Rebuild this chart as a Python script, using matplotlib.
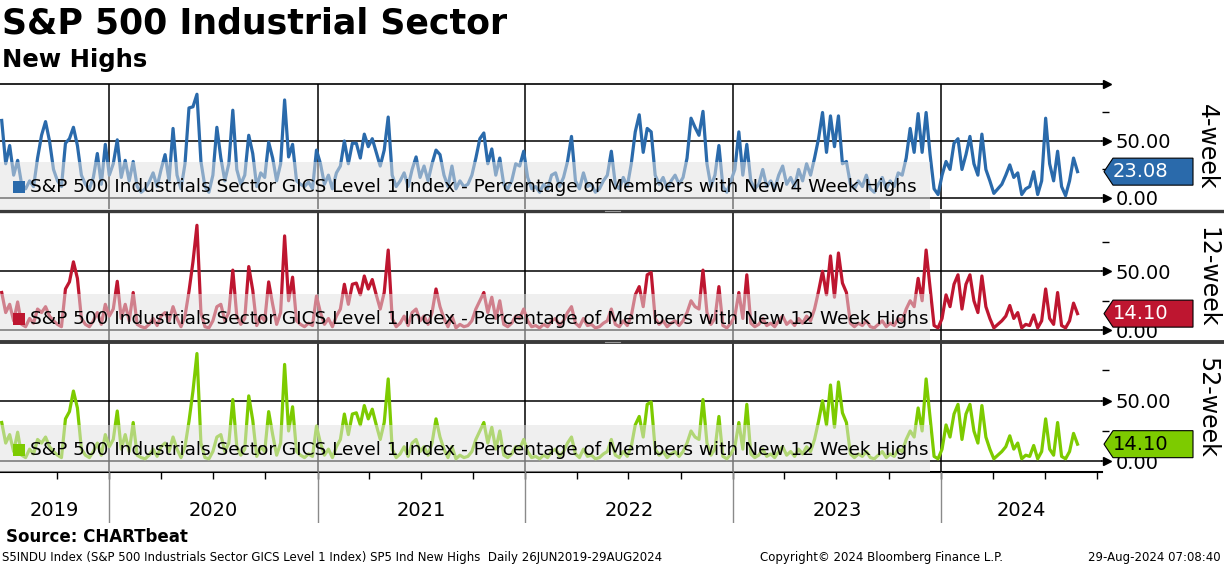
import matplotlib
matplotlib.use("Agg")
import matplotlib.pyplot as plt
import matplotlib.dates as mdates
from matplotlib.ticker import FixedLocator
from matplotlib.patches import Polygon, Rectangle
from matplotlib.lines import Line2D
from matplotlib.transforms import blended_transform_factory
import pandas as pd

plt.rcParams["font.family"] = ["DejaVu Sans"]

# weekly readings of the daily series (26 Jun 2019 - 29 Aug 2024), values in %
four_week = [
    68, 30, 46, 20, 33, 12, 8, 15, 10, 35,
    55, 67, 50, 25, 15, 10, 48, 52, 62, 46,
    20, 12, 8, 18, 39, 12, 47, 20, 30, 51,
    18, 33, 15, 32, 10, 5, 8, 14, 22, 10,
    25, 38, 15, 61, 20, 8, 30, 79, 80, 91,
    32, 10, 5, 20, 62, 35, 15, 30, 77, 25,
    12, 20, 55, 39, 10, 22, 18, 49, 35, 15,
    30, 86, 36, 47, 15, 12, 10, 14, 8, 42,
    30, 12, 20, 8, 22, 28, 50, 30, 48, 48,
    35, 56, 45, 52, 40, 28, 42, 71, 20, 10,
    15, 22, 10, 25, 36, 18, 28, 15, 30, 42,
    38, 20, 10, 28, 8, 15, 10, 12, 20, 35,
    52, 57, 30, 43, 20, 35, 12, 8, 15, 30,
    28, 41, 18, 8, 10, 5, 12, 8, 20, 22,
    10, 18, 32, 54, 15, 8, 22, 10, 12, 5,
    8, 15, 20, 41, 12, 8, 18, 10, 30, 58,
    73, 40, 61, 58, 20, 12, 18, 8, 15, 20,
    12, 18, 35, 70, 62, 55, 76, 30, 10, 20,
    46, 10, 5, 15, 25, 58, 20, 47, 15, 8,
    12, 25, 10, 15, 8, 20, 28, 12, 18, 10,
    25, 15, 30, 20, 35, 52, 75, 40, 72, 45,
    72, 30, 32, 12, 8, 15, 10, 20, 8, 5,
    12, 18, 8, 15, 10, 22, 20, 35, 61, 40,
    74, 40, 75, 38, 8, 3, 20, 32, 25, 48,
    52, 25, 38, 54, 30, 20, 56, 25, 15, 4,
    8, 12, 20, 29, 18, 22, 3, 8, 10, 23,
    3, 15, 70, 30, 15, 41, 10, 2, 15, 35, 23.08,
]

twelve_week = [
    32, 15, 22, 8, 24, 5, 3, 10, 6, 18,
    15, 20, 12, 8, 5, 3, 35, 41, 58, 44,
    10, 5, 3, 8, 15, 5, 22, 12, 18, 41.5,
    10, 22, 8, 32, 5, 3, 2, 5, 10, 4,
    12, 15, 8, 20, 10, 3, 12, 33, 58, 89,
    15, 3, 2, 8, 20, 22, 8, 15, 51, 12,
    5, 10, 54, 34, 4, 12, 8, 41, 22, 5,
    15, 80, 25, 45, 8, 5, 3, 6, 4, 29,
    15, 5, 10, 3, 12, 18, 39, 22, 39, 40,
    30, 46, 35, 43, 30, 18, 32, 68, 10, 3,
    6, 12, 4, 15, 18, 8, 12, 5, 15, 35,
    20, 10, 3, 12, 2, 5, 3, 4, 8, 18,
    25, 32, 15, 28, 10, 25, 5, 3, 6, 12,
    10, 18, 8, 3, 4, 2, 5, 3, 8, 10,
    4, 8, 15, 20, 6, 3, 10, 4, 5, 2,
    3, 6, 8, 18, 5, 3, 8, 4, 12, 30,
    37, 20, 47, 49, 10, 5, 8, 3, 6, 8,
    4, 8, 15, 25, 20, 18, 51, 15, 5, 10,
    37, 4, 2, 6, 12, 32, 10, 47, 6, 3,
    5, 10, 4, 6, 3, 8, 12, 5, 8, 4,
    10, 6, 12, 8, 18, 33, 50, 30, 63, 28,
    65.5, 40, 32, 6, 3, 6, 4, 8, 3, 2,
    5, 8, 3, 6, 4, 10, 8, 18, 25, 20,
    44, 25, 68, 36, 4, 2, 10, 30, 20, 39,
    47, 18, 39, 47, 25, 15, 46, 20, 10, 2,
    5, 8, 12, 21, 10, 15, 2, 5, 4, 13,
    2, 8, 35, 10, 5, 32, 4, 2, 8, 23, 14.10,
]

# the bottom panel of the original repeats the 12-week series
fifty_two_week = list(twelve_week)

dates = pd.date_range("2019-06-26", periods=len(four_week), freq="7D")
years = [2019, 2020, 2021, 2022, 2023, 2024]

panel_names = ["4-week", "12-week", "52-week"]
legend_texts = [
    "S&P 500 Industrials Sector GICS Level 1 Index - Percentage of Members with New 4 Week Highs",
    "S&P 500 Industrials Sector GICS Level 1 Index - Percentage of Members with New 12 Week Highs",
    "S&P 500 Industrials Sector GICS Level 1 Index - Percentage of Members with New 12 Week Highs",
]
colors = ["#2a6aab", "#be1630", "#7dcb00"]
tag_text_colors = ["white", "white", "black"]

W, H = 1224, 566
fig = plt.figure(figsize=(W / 100, H / 100), dpi=100)


def fy(px):
    return 1 - px / H


x_left = pd.Timestamp("2019-06-23")
x_right = pd.Timestamp("2024-10-10")
plot_w = 1102

# (top px, bottom px, ylim)
panels = [(84, 209, (-9.7, 100)), (213, 341, (-9.1, 99.4)), (343, 472, (-8.9, 97.7))]
series = [four_week, twelve_week, fifty_two_week]

axes = []
for i, (top, bot, ylim) in enumerate(panels):
    ax = fig.add_axes([0, fy(bot), plot_w / W, (bot - top) / H])
    ax.set_xlim(x_left, x_right)
    ax.set_ylim(*ylim)
    for s in ["left", "right", "top", "bottom"]:
        ax.spines[s].set_visible(False)
    if i == 0:
        ax.spines["top"].set_visible(True)
        ax.spines["top"].set_linewidth(1.2)
    if i == 2:
        ax.spines["bottom"].set_visible(True)
        ax.spines["bottom"].set_linewidth(1.5)

    # grid
    for v in (0, 50):
        ax.axhline(v, color="black", lw=1.1, zorder=1)
    for y in years[1:]:
        ax.axvline(pd.Timestamp(f"{y}-01-01"), color="black", lw=1.1, zorder=1)

    ax.plot(dates, series[i], color=colors[i], lw=2.3, zorder=2, solid_joinstyle="round")

    # right axis
    ax.yaxis.tick_right()
    ax.set_yticks([0, 50])
    ax.set_yticklabels(["0.00", "50.00"], fontsize=14)
    ax.set_yticks([25, 75], minor=True)
    ax.tick_params(axis="y", which="major", length=0, pad=10)
    ax.tick_params(axis="y", which="minor", length=5, width=1, direction="out")
    trans = blended_transform_factory(ax.transAxes, ax.transData)
    for v in (0, 50, 100):
        if ylim[0] <= v <= ylim[1]:
            ax.plot([1.0, 1.004], [v, v], color="black", lw=1.1, transform=trans, clip_on=False)
            ax.plot(1.0045, v, marker=">", ms=6, color="black", transform=trans, clip_on=False)

    if i == 2:
        quarters = pd.date_range("2019-10-01", "2024-10-01", freq="QS-JAN")
        ax.xaxis.set_major_locator(mdates.YearLocator())
        ax.xaxis.set_minor_locator(FixedLocator(mdates.date2num(quarters)))
        ax.tick_params(axis="x", which="both", length=5, width=1, direction="out", labelbottom=False)
    else:
        ax.set_xticks([])

    # legend band
    ph = bot - top
    ax.add_patch(Rectangle((0, 0), 930 / plot_w, 47 / ph, transform=ax.transAxes,
                           facecolor="#e2e2e2", alpha=0.52, edgecolor="none", zorder=3))
    ax.add_patch(Rectangle((13 / plot_w, 16 / ph), 12 / plot_w, 12 / ph, transform=ax.transAxes,
                           facecolor=colors[i], edgecolor="none", zorder=4))
    ax.text(30 / plot_w, 22 / ph, legend_texts[i], transform=ax.transAxes, fontsize=13.3,
            va="center", ha="left", zorder=5)

    # panel name on the right
    fig.text(1207 / W, fy((top + bot) / 2), panel_names[i], rotation=-90, fontsize=17,
             ha="center", va="center")
    axes.append(ax)

# value tags
for i, ax in enumerate(axes):
    last = series[i][-1]
    y = ax.transData.transform((0, last))[1] / H
    hh = 13.5 / H
    xs = [1104 / W, 1113 / W, 1193 / W, 1193 / W, 1113 / W]
    ys = [y, y + hh, y + hh, y - hh, y - hh]
    fig.add_artist(Polygon(list(zip(xs, ys)), closed=True, transform=fig.transFigure,
                           facecolor=colors[i], edgecolor="black", lw=0.8, zorder=5))
    fig.text(1113 / W, y, f"{last:.2f}", color=tag_text_colors[i], fontsize=14,
             ha="left", va="center", zorder=6)

# panel separators
for yp, lw in ((211, 2.4), (342, 2.8)):
    fig.add_artist(Line2D([0, 1], [fy(yp), fy(yp)], color="#3a3a3a", lw=lw, transform=fig.transFigure))
    fig.add_artist(Line2D([605 / W, 620 / W], [fy(yp - 0.5), fy(yp - 0.5)], color="#9a9a9a", lw=0.8,
                          transform=fig.transFigure))

# date area
axd = fig.add_axes([0, fy(523), plot_w / W, (523 - 472) / H])
axd.set_xlim(x_left, x_right)
axd.set_ylim(0, 1)
axd.axis("off")
for y in years[1:]:
    axd.axvline(pd.Timestamp(f"{y}-01-01"), color="#8a8a8a", lw=1)
for y in years:
    a = max(pd.Timestamp(f"{y}-01-01"), x_left)
    b = min(pd.Timestamp(f"{y + 1}-01-01"), x_right)
    mid = a + (b - a) / 2
    axd.text(mid, (523 - 511) / 51, str(y), ha="center", va="center", fontsize=14)

# titles and footer
fig.text(2 / W, fy(24), "S&P 500 Industrial Sector", fontsize=25, fontweight="bold", va="center", ha="left")
fig.text(2 / W, fy(60), "New Highs", fontsize=17.5, fontweight="bold", va="center", ha="left")
fig.text(6 / W, fy(537), "Source: CHARTbeat", fontsize=12, fontweight="bold", va="center", ha="left")
fig.text(2 / W, fy(557),
         "S5INDU Index (S&P 500 Industrials Sector GICS Level 1 Index) SP5 Ind New Highs  Daily 26JUN2019-29AUG2024",
         fontsize=8.5, va="center", ha="left")
fig.text(882 / W, fy(557), "Copyright\u00a9 2024 Bloomberg Finance L.P.", fontsize=8.5, va="center", ha="center")
fig.text(1221 / W, fy(557), "29-Aug-2024 07:08:40", fontsize=8.5, va="center", ha="right")

fig.savefig("out.png", dpi=100)
